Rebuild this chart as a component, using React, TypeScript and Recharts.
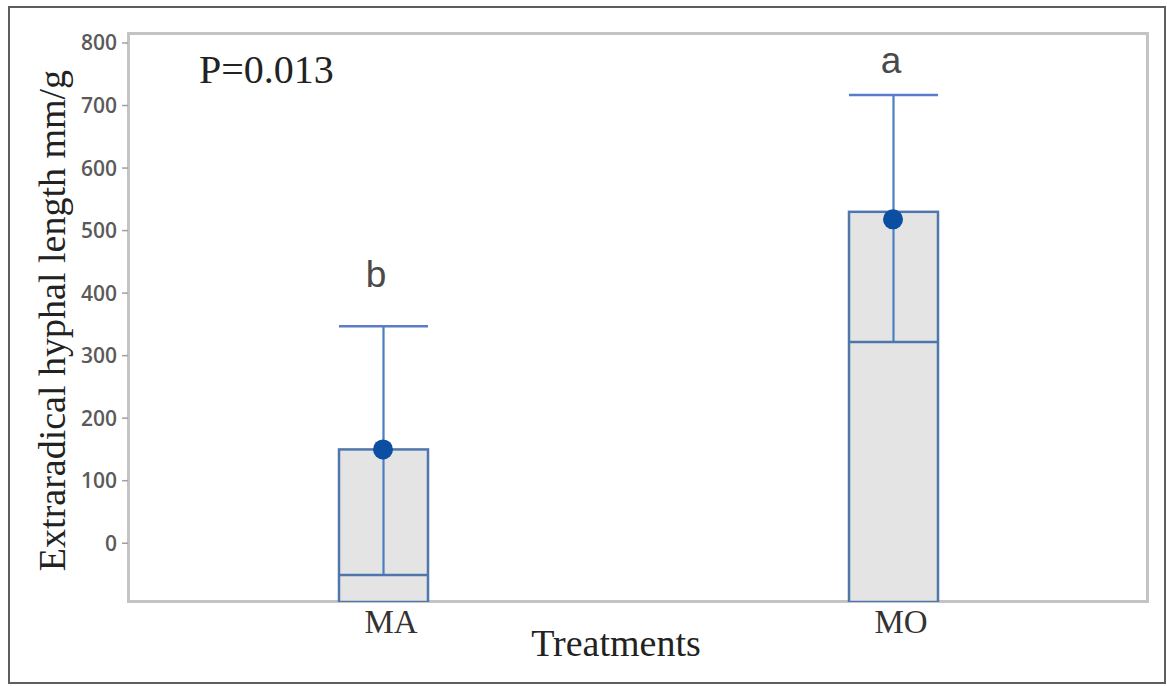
import React from 'react';
import { ComposedChart, Bar, Line, XAxis, YAxis, ReferenceDot, Label } from 'recharts';

// Data
const categories = ['MA', 'MO'];
const q1Values = [-94, -94]; // lower quartile lies below the visible axis range
const q3Values = [150, 530];
const medianValues = [-51, 322];
const whiskerTopValues = [347, 717];
const meanValues = [150, 518];
const groupLetters = ['b', 'a'];
const yTicks = [0, 100, 200, 300, 400, 500, 600, 700, 800];
const pValueText = 'P=0.013';
const xTitle = 'Treatments';
const yTitle = 'Extraradical hyphal length mm/g';

const data = categories.map((cat, i) => ({
  cat,
  box: [q1Values[i], q3Values[i]],
  whisker: [medianValues[i], whiskerTopValues[i]],
  mean: meanValues[i],
}));

const SERIF = '"Liberation Serif", "Times New Roman", serif';
const SANS = '"Liberation Sans", Arial, sans-serif';

const BoxShape = (props: any) => {
  const { x, y, width, height } = props;
  const top = Math.min(y, y + height);
  const h = Math.abs(height);
  return <rect x={x} y={top} width={width} height={h} fill="#e4e4e4" stroke="#5077ab" strokeWidth={2.5} />;
};

const WhiskerShape = (props: any) => {
  const { x, y, width, height } = props;
  const top = Math.min(y, y + height);
  const bot = Math.max(y, y + height);
  const cx = x + width / 2;
  return (
    <g>
      <line x1={cx} x2={cx} y1={top} y2={bot} stroke="#4c7fc2" strokeWidth={2.2} />
      <line x1={x} x2={x + width} y1={top} y2={top} stroke="#5b7bcb" strokeWidth={2.5} />
      <line x1={x} x2={x + width} y1={bot} y2={bot} stroke="#4f76ab" strokeWidth={2.5} />
    </g>
  );
};

const XTick = (props: any) => {
  const { x, y, payload } = props;
  return (
    <text x={x + 8} y={y + 31} textAnchor="middle" fontFamily={SERIF} fontSize={33} fill="#333">
      {payload.value}
    </text>
  );
};

const letterContent = (text: string, dx: number) => (p: any) => {
  const vb = p.viewBox || {};
  const cx = (vb.x || 0) + (vb.width || 0) / 2 + dx;
  const cy = (vb.y || 0) + (vb.height || 0) / 2;
  return (
    <text x={cx} y={cy + 13} textAnchor="middle" fontFamily={SANS} fontSize={37} fill="#4a4a4a">
      {text}
    </text>
  );
};

export default function App() {
  return (
    <div style={{ position: 'absolute', left: 0, top: 0, width: 1167, height: 686, background: '#fff' }}>
      <div
        style={{
          position: 'absolute', left: 8, top: 6, width: 1158, height: 678,
          border: '2.5px solid #5e5e5e', boxSizing: 'border-box',
        }}
      />
      <div
        style={{
          position: 'absolute', left: 127, top: 32, width: 1022, height: 571,
          border: '3px solid #c4c4c4', boxSizing: 'border-box',
        }}
      />
      <div style={{ position: 'absolute', left: 0, top: 0 }}>
        <ComposedChart
          width={1167}
          height={686}
          data={data}
          margin={{ top: 33, right: 19, bottom: 0, left: 28 }}
          barGap={-89}
        >
          <XAxis
            dataKey="cat"
            type="category"
            height={84}
            axisLine={false}
            tickLine={false}
            tickSize={0}
            tickMargin={0}
            tick={<XTick />}
            interval={0}
          >
            <Label
              content={(p: any) => {
                const vb = p.viewBox || {};
                return (
                  <text x={vb.x + vb.width / 2 - 22} y={vb.y + 54} textAnchor="middle" fontFamily={SERIF} fontSize={38} fill="#222">
                    {xTitle}
                  </text>
                );
              }}
            />
          </XAxis>
          <YAxis
            type="number"
            domain={[-94, 816]}
            allowDataOverflow
            ticks={yTicks}
            interval={0}
            width={100}
            axisLine={false}
            tickLine={{ stroke: '#a0a0a0', strokeWidth: 1.5 }}
            tickSize={6}
            tickMargin={5}
            tick={{ fontFamily: '"Open Sans", sans-serif', fontWeight: 600, fontSize: 21, fill: '#5a5a5a' }}
          >
            <Label
              content={(p: any) => {
                const vb = p.viewBox || {};
                const cx = vb.x + 24;
                const cy = vb.y + vb.height / 2 + 3;
                return (
                  <text
                    x={cx}
                    y={cy}
                    transform={`rotate(-90 ${cx} ${cy})`}
                    textAnchor="middle"
                    dominantBaseline="central"
                    fontFamily={SERIF}
                    fontSize={38}
                    fill="#222"
                  >
                    {yTitle}
                  </text>
                );
              }}
            />
          </YAxis>
          <Bar dataKey="box" barSize={89} shape={<BoxShape />} isAnimationActive={false} />
          <Bar dataKey="whisker" barSize={89} shape={<WhiskerShape />} isAnimationActive={false} />
          <Line
            dataKey="mean"
            stroke="none"
            dot={{ r: 10, fill: '#0b4ea2', stroke: 'none' }}
            activeDot={false}
            isAnimationActive={false}
          />
          <ReferenceDot x={categories[0]} y={430} r={1} fill="none" stroke="none" label={{ content: letterContent(groupLetters[0], -7) }} />
          <ReferenceDot x={categories[1]} y={773} r={1} fill="none" stroke="none" label={{ content: letterContent(groupLetters[1], -2) }} />
        </ComposedChart>
      </div>
      <svg width={1167} height={686} style={{ position: 'absolute', left: 0, top: 0, pointerEvents: 'none' }}>
        <text x={199} y={83} fontFamily={SERIF} fontSize={40} fill="#222">
          {pValueText}
        </text>
      </svg>
    </div>
  );
}
